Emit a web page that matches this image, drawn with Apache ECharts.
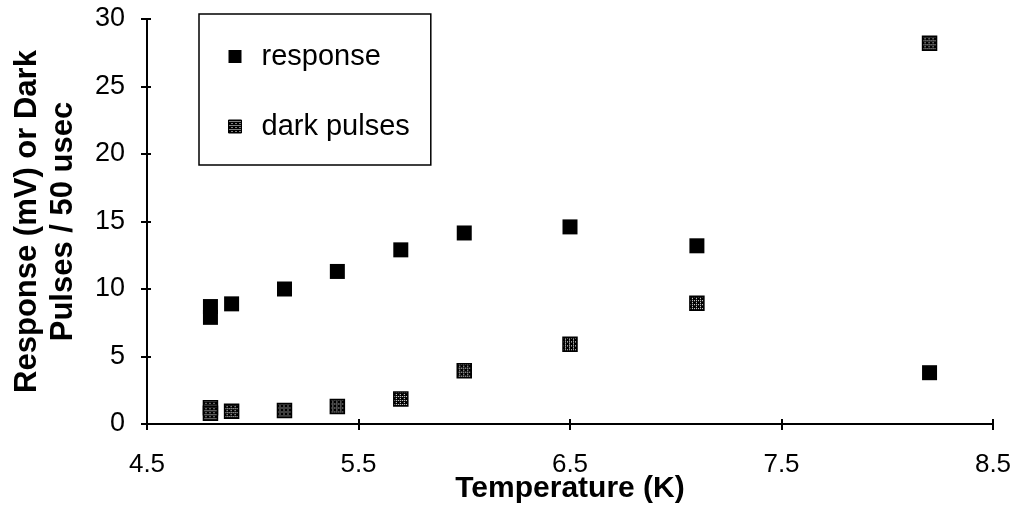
<!DOCTYPE html>
<html><head><meta charset="utf-8">
<script src="https://cdn.jsdelivr.net/npm/echarts@6/dist/echarts.min.js"></script>
<style>html,body{margin:0;padding:0;background:#fff}#c{width:1019px;height:531px}</style>
</head><body><div id="c"></div>
<script>
var temperatures = [4.8, 4.8, 4.9, 5.15, 5.4, 5.7, 6.0, 6.5, 7.1, 8.2];
var responseVals = [8.7, 7.9, 8.9, 10.0, 11.3, 12.9, 14.15, 14.6, 13.2, 3.8];
var darkTemps = [4.8, 4.8, 4.9, 5.15, 5.4, 5.7, 6.0, 6.5, 7.1, 8.2];
var darkVals = [1.2, 0.8, 0.95, 1.0, 1.3, 1.85, 3.95, 5.9, 8.95, 28.2];
var xTicks = [4.5, 5.5, 6.5, 7.5, 8.5];
var yTicks = [0, 5, 10, 15, 20, 25, 30];

function pair(xs, ys){ return xs.map(function(x,i){return [x, ys[i]];}); }

var pc = document.createElement('canvas');
pc.width = 4; pc.height = 4;
var g = pc.getContext('2d');
g.fillStyle = '#000'; g.fillRect(0,0,4,4);
g.fillStyle = '#fff'; g.fillRect(1,1,1,1); g.fillRect(3,3,1,1); g.fillRect(3,1,1,1);
var symSize = 14;
var seriesPattern = {image: pc, repeat: 'repeat', scaleX: 2 / symSize, scaleY: 2 / symSize};
var legendPattern = {image: pc, repeat: 'repeat'};

var font = '"Liberation Sans", Arial, sans-serif';
var chart = echarts.init(document.getElementById('c'), null, {renderer: 'canvas'});
var axisCommon = {
  axisLine: {show: true, onZero: false, lineStyle: {color: '#000', width: 2}},
  splitLine: {show: false}
};
chart.setOption({
  animation: false,
  backgroundColor: '#fff',
  grid: {left: 147, right: 26, top: 19, bottom: 107},
  legend: {
    orient: 'vertical', left: 199, top: 14,
    padding: [28, 21, 24, 29], itemGap: 41,
    borderColor: '#000', borderWidth: 1.5,
    itemWidth: 13, itemHeight: 13,
    textStyle: {fontFamily: font, fontSize: 29, color: '#000', padding: [0, 0, 0, 15]},
    data: [
      {name: 'response', icon: 'rect', itemStyle: {color: '#000'}},
      {name: 'dark pulses', icon: 'rect', itemStyle: {color: legendPattern, borderColor: '#000', borderWidth: 1}}
    ]
  },
  xAxis: [
    Object.assign({}, axisCommon, {
      type: 'value', min: 4.5, max: 8.5, interval: 1,
      name: 'Temperature (K)', nameLocation: 'middle', nameGap: 50, nameMoveOverlap: false,
      nameTextStyle: {fontFamily: font, fontSize: 30, fontWeight: 'bold', color: '#000'},
      axisTick: {show: true, length: 6, lineStyle: {color: '#000', width: 2}},
      axisLabel: {fontFamily: font, fontSize: 26, color: '#000', margin: 28,
        formatter: function(v){ return xTicks.indexOf(+v.toFixed(1)) >= 0 ? v.toFixed(1) : ''; }}
    }),
    Object.assign({}, axisCommon, {
      type: 'value', min: 4.5, max: 8.5, interval: 1, position: 'bottom',
      axisTick: {show: true, inside: true, length: 5, lineStyle: {color: '#000', width: 2}},
      axisLabel: {show: false}
    })
  ],
  yAxis: [
    Object.assign({}, axisCommon, {
      type: 'value', min: 0, max: 30, interval: 5,
      name: 'Response (mV) or Dark\nPulses / 50 usec', nameLocation: 'middle', nameGap: 66, nameMoveOverlap: false,
      nameTextStyle: {fontFamily: font, fontSize: 31, fontWeight: 'bold', color: '#000', lineHeight: 36},
      axisTick: {show: true, length: 6, lineStyle: {color: '#000', width: 2}},
      axisLabel: {fontFamily: font, fontSize: 27, color: '#000', margin: 22,
        formatter: function(v){ return yTicks.indexOf(v) >= 0 ? String(v) : ''; }}
    }),
    Object.assign({}, axisCommon, {
      type: 'value', min: 0, max: 30, interval: 5, position: 'left',
      axisTick: {show: true, inside: true, length: 4, lineStyle: {color: '#000', width: 2}},
      axisLabel: {show: false}
    })
  ],
  series: [
    {name: 'response', type: 'scatter', symbol: 'rect', symbolSize: 15,
     itemStyle: {color: '#000', opacity: 1}, data: pair(temperatures, responseVals)},
    {name: 'dark pulses', type: 'scatter', symbol: 'rect', symbolSize: symSize,
     itemStyle: {color: seriesPattern, borderColor: '#000', borderWidth: 1.5, opacity: 1}, data: pair(darkTemps, darkVals)}
  ]
});
</script></body></html>
